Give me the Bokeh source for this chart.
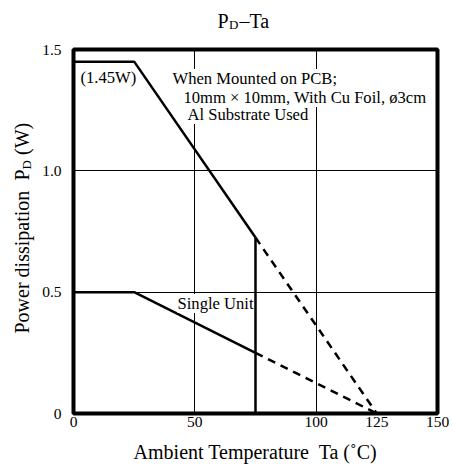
import math
from bokeh.plotting import figure
from bokeh.layouts import column, row
from bokeh.models import Range1d, FixedTicker, Label
from bokeh.embed import file_html
from bokeh.resources import INLINE

# ---- data ----
temp_pcb_solid = [0, 25, 75]
pd_pcb_solid = [1.45, 1.45, 0.725]
temp_pcb_dash = [75, 125]
pd_pcb_dash = [0.725, 0.0]
temp_single_solid = [0, 25, 75]
pd_single_solid = [0.5, 0.5, 0.25]
temp_single_dash = [75, 125]
pd_single_dash = [0.25, 0.0]
temp_limit = [75, 75]
pd_limit = [0.0, 0.725]

x_ticks = [0, 50, 100, 125, 150]
y_ticks = [0, 0.5, 1.0, 1.5]
y_tick_labels = ["0", "0.5", "1.0", "1.5"]
x_grid = [50, 100]
y_grid = [0.5, 1.0]

FONT = "Liberation Serif"

X0, X1 = 0, 150
Y0, Y1 = 0, 1.5
FL, FR, FT, FB = 73, 437, 49, 413  # frame edges on the page (px)

TITLE_H = 40
YLAB_W = 38
W, H = 452, 468


def dx(px):
    return X0 + (px - FL) / (FR - FL) * (X1 - X0)


def dy(py):
    return Y0 + (FB - py) / (FB - FT) * (Y1 - Y0)


def text_fig(width, height, xr, yr):
    f = figure(width=width, height=height, x_range=xr, y_range=yr,
               x_axis_type=None, y_axis_type=None, output_backend="svg",
               toolbar_location=None, min_border=0, title=None)
    f.outline_line_color = None
    f.background_fill_color = "white"
    f.border_fill_color = "white"
    f.grid.visible = False
    return f


def add_label(fig, text, x, y, size, angle=0.0, align="left", baseline="middle", bg=None):
    kw = dict(x=x, y=y, text=text, text_font=FONT, text_font_size=f"{size}px",
              text_color="black", text_align=align, text_baseline=baseline, angle=angle)
    if bg:
        kw["background_fill_color"] = bg
    fig.add_layout(Label(**kw))


# ---- title strip (page pixel coordinates) ----
t = text_fig(W, TITLE_H, Range1d(0, W), Range1d(TITLE_H, 0))
add_label(t, "P", 217, 20.25, 20)
add_label(t, "D", 228.5, 23.6, 13)
add_label(t, "\u2013Ta", 239, 20.25, 20)

# ---- y label strip: its frame is aligned with the chart frame, so map page y ----
yl = text_fig(YLAB_W, H - TITLE_H, Range1d(0, YLAB_W), Range1d(FB, FT))
R = math.pi / 2
add_label(yl, "Power dissipation", 21.3, 333, 20, angle=R)
add_label(yl, "P", 21.3, 180, 20, angle=R)
add_label(yl, "D", 26.1, 168.9, 13, angle=R)
add_label(yl, "(W)", 21.3, 154.5, 20, angle=R)

# ---- main chart ----
PW, PH = W - YLAB_W, H - TITLE_H
p = figure(width=PW, height=PH, x_range=Range1d(X0, X1), y_range=Range1d(Y0, Y1),
           output_backend="svg", toolbar_location=None, title=None,
           min_border_left=FL - YLAB_W, min_border_right=W - FR,
           min_border_top=FT - TITLE_H, min_border_bottom=H - FB)
p.background_fill_color = "white"
p.border_fill_color = "white"
p.outline_line_color = "black"
p.outline_line_width = 4

p.xaxis.ticker = FixedTicker(ticks=x_ticks)
p.yaxis.ticker = FixedTicker(ticks=y_ticks)
p.yaxis.major_label_overrides = {tk: s for tk, s in zip(y_ticks, y_tick_labels)}
for ax in (p.xaxis[0], p.yaxis[0]):
    ax.axis_line_color = None
    ax.major_tick_line_color = None
    ax.minor_tick_line_color = None
    ax.major_tick_out = 0
    ax.major_tick_in = 0
    ax.minor_tick_out = 0
    ax.major_label_text_font = FONT
    ax.major_label_text_font_size = "15.5px"
    ax.major_label_text_color = "black"
p.xaxis.major_label_standoff = 3
p.yaxis.major_label_standoff = 12
p.xaxis.axis_label = "Ambient Temperature\u00a0 Ta (\u02daC)"
p.xaxis.axis_label_text_font = FONT
p.xaxis.axis_label_text_font_size = "20px"
p.xaxis.axis_label_text_font_style = "normal"
p.xaxis.axis_label_text_color = "black"
p.xaxis.axis_label_standoff = 11

p.xgrid.ticker = FixedTicker(ticks=x_grid)
p.ygrid.ticker = FixedTicker(ticks=y_grid)
for g in (p.xgrid[0], p.ygrid[0]):
    g.grid_line_color = "black"
    g.grid_line_width = 1
    g.grid_line_alpha = 1

LW = 2.5
DASH = "8 6"
p.line(temp_pcb_solid, pd_pcb_solid, line_color="black", line_width=LW)
p.line(temp_pcb_dash, pd_pcb_dash, line_color="black", line_width=LW, line_dash=DASH)
p.line(temp_single_solid, pd_single_solid, line_color="black", line_width=LW)
p.line(temp_single_dash, pd_single_dash, line_color="black", line_width=LW, line_dash=DASH)
p.line(temp_limit, pd_limit, line_color="black", line_width=LW)

ANN = 16.6
add_label(p, "(1.45W)", dx(80), dy(77), ANN)
add_label(p, "When Mounted on PCB;", dx(172), dy(78), ANN, bg="white")
add_label(p, "10mm \u00d7 10mm, With Cu Foil, \u00f83cm", dx(183), dy(97), ANN, bg="white")
add_label(p, "Al Substrate Used", dx(187), dy(114), ANN, bg="white")
add_label(p, "Single Unit", dx(177), dy(303), ANN, bg="white")

layout = column(t, row(yl, p, spacing=0), spacing=0)

open("out.html", "w").write(file_html(layout, INLINE))
